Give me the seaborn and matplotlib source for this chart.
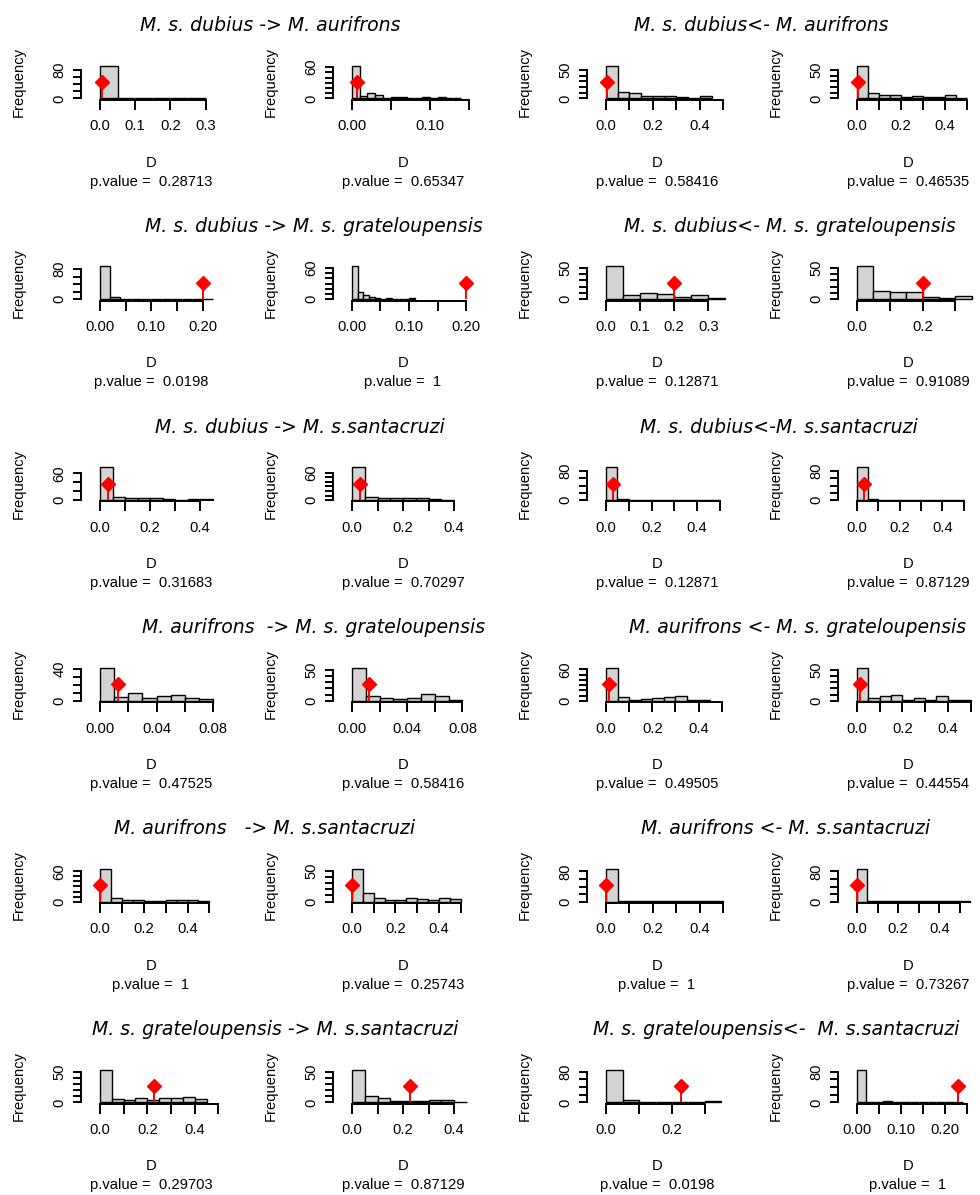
import numpy as np
import pandas as pd
import matplotlib
matplotlib.use("Agg")
import matplotlib.pyplot as plt
import seaborn as sns

sns.set_theme(style="white")
plt.rcParams['font.family'] = ['Liberation Sans', 'DejaVu Sans']
plt.rcParams['axes.edgecolor'] = 'black'
plt.rcParams['xtick.color'] = 'black'
plt.rcParams['ytick.color'] = 'black'
plt.rcParams['text.color'] = 'black'
plt.rcParams['axes.labelcolor'] = 'black'

# ---------------- data ----------------
titles_left = [
    "M. s. dubius -> M. aurifrons",
    "M. s. dubius -> M. s. grateloupensis",
    "M. s. dubius -> M. s.santacruzi",
    "M. aurifrons  -> M. s. grateloupensis",
    "M. aurifrons   -> M. s.santacruzi",
    "M. s. grateloupensis -> M. s.santacruzi",
]
titles_right = [
    "M. s. dubius<- M. aurifrons",
    "M. s. dubius<- M. s. grateloupensis",
    "M. s. dubius<-M. s.santacruzi",
    "M. aurifrons <- M. s. grateloupensis",
    "M. aurifrons <- M. s.santacruzi",
    "M. s. grateloupensis<-  M. s.santacruzi",
]

# 24 panels, row by row (4 per row)
bin_width = [0.05, 0.01, 0.05, 0.05,
             0.02, 0.01, 0.05, 0.05,
             0.05, 0.05, 0.05, 0.05,
             0.01, 0.01, 0.05, 0.05,
             0.05, 0.05, 0.05, 0.05,
             0.05, 0.05, 0.05, 0.02]

counts = [
    [92, 2, 2, 1, 2, 2],
    [63, 4, 11, 6, 1, 3, 2, 1, 1, 3, 1, 2, 1, 1],
    [58, 11, 10, 5, 5, 4, 2, 1, 5],
    [58, 10, 6, 6, 3, 5, 3, 3, 6, 1],
    [87, 6, 2, 1, 2, 2, 0, 0, 0, 0, 0],
    [63, 14, 8, 5, 2, 1, 2, 1, 1, 1, 2],
    [52, 7, 10, 9, 4, 6, 2],
    [52, 13, 12, 11, 4, 2, 5],
    [74, 7, 4, 4, 4, 2, 1, 2, 2],
    [72, 7, 4, 4, 5, 4, 3, 1],
    [91, 3, 1, 1, 1, 1, 1, 0, 1, 1],
    [91, 2, 1, 1, 1, 1, 1, 1, 1, 1],
    [41, 5, 10, 3, 6, 7, 3, 2],
    [53, 8, 5, 3, 4, 11, 8, 1],
    [63, 8, 2, 3, 5, 7, 9, 2, 1],
    [53, 5, 8, 9, 2, 4, 2, 8, 1, 1],
    [65, 7, 4, 4, 1, 2, 4, 3, 4, 2],
    [53, 14, 6, 2, 3, 6, 4, 3, 6, 4],
    [87, 2, 1, 1, 2, 1, 1, 2, 2, 2],
    [87, 2, 1, 1, 2, 1, 1, 2, 1, 1, 1],
    [54, 6, 4, 7, 4, 7, 7, 9, 5],
    [54, 10, 7, 3, 3, 2, 4, 4, 0],
    [86, 6, 1, 2, 1, 1, 3],
    [86, 2, 2, 3, 1, 2, 1, 1, 1, 1, 1, 0],
]

obs_d = [0.007, 0.007, 0.004, 0.004,
         0.2, 0.2, 0.2, 0.2,
         0.032, 0.032, 0.032, 0.032,
         0.0125, 0.0125, 0.011, 0.011,
         0.0, 0.0, 0.0, 0.0,
         0.228, 0.228, 0.228, 0.228]

p_values = ["0.28713", "0.65347", "0.58416", "0.46535",
            "0.0198", "1", "0.12871", "0.91089",
            "0.31683", "0.70297", "0.12871", "0.87129",
            "0.47525", "0.58416", "0.49505", "0.44554",
            "1", "0.25743", "1", "0.73267",
            "0.29703", "0.87129", "0.0198", "1"]

# x axis ticks: step, last tick, label every n-th tick, decimals
x_tick_step = [0.1, 0.05, 0.1, 0.1,
               0.05, 0.05, 0.1, 0.1,
               0.1, 0.1, 0.1, 0.1,
               0.02, 0.02, 0.1, 0.1,
               0.1, 0.1, 0.1, 0.1,
               0.1, 0.1, 0.1, 0.05]
x_tick_max = [0.3, 0.15, 0.5, 0.5,
              0.2, 0.2, 0.3, 0.3,
              0.4, 0.4, 0.5, 0.5,
              0.08, 0.08, 0.5, 0.5,
              0.5, 0.5, 0.5, 0.5,
              0.5, 0.4, 0.3, 0.25]
x_label_every = [1, 2, 2, 2,
                 2, 2, 1, 2,
                 2, 2, 2, 2,
                 2, 2, 2, 2,
                 2, 2, 2, 2,
                 2, 2, 2, 2]
x_decimals = [1, 2, 1, 1,
              2, 2, 1, 1,
              1, 1, 1, 1,
              2, 2, 1, 1,
              1, 1, 1, 1,
              1, 1, 1, 2]
x_limits = [(-0.054, 0.344), (-0.024, 0.155), (-0.081, 0.516), (-0.086, 0.55),
            (-0.037, 0.236), (-0.033, 0.212), (-0.056, 0.355), (-0.058, 0.369),
            (-0.076, 0.484), (-0.075, 0.474), (-0.083, 0.531), (-0.089, 0.567),
            (-0.0134, 0.0854), (-0.0138, 0.0877), (-0.082, 0.523), (-0.084, 0.533),
            (-0.087, 0.553), (-0.087, 0.557), (-0.081, 0.516), (-0.093, 0.589),
            (-0.080, 0.511), (-0.075, 0.474), (-0.058, 0.367), (-0.043, 0.274)]

# y axis ticks: last tick and step
y_tick_max = [80, 60, 50, 50,
              80, 60, 50, 50,
              60, 60, 80, 80,
              40, 50, 60, 50,
              60, 50, 80, 80,
              50, 50, 80, 80]
y_tick_step = [20, 10, 10, 10,
               20, 10, 10, 10,
               20, 10, 20, 20,
               10, 10, 10, 10,
               10, 10, 20, 20,
               10, 10, 20, 20]

title_center_left = [270, 314, 300, 314, 265, 275]
title_center_right = [761, 790, 779, 798, 786, 776]

# ---------------- layout (pixels) ----------------
W, H = 980, 1195
fig = plt.figure(figsize=(W / 100, H / 100), dpi=100)
col_spine_x = [81, 333, 587, 838]
plot_w = 140
plot_h = 35.6
small = 10.6

for i in range(24):
    r, c = divmod(i, 4)
    base = 98.5 + 200.8 * r
    bottom_px = base + 1.3
    ax = fig.add_axes([col_spine_x[c] / W, 1 - bottom_px / H, plot_w / W, plot_h / H])

    cnt = np.array(counts[i], dtype=float)
    edges = np.arange(len(cnt) + 1) * bin_width[i]
    df = pd.DataFrame({"D": (edges[:-1] + edges[1:]) / 2, "n": cnt})
    sns.histplot(data=df, x="D", weights="n", bins=[float(e) for e in edges],
                 ax=ax, stat="count",
                 color="#d3d3d3", edgecolor="black", linewidth=1.0, alpha=1)

    M = cnt.max()
    ax.vlines(obs_d[i], 0, M / 2, color="red", lw=1.4, zorder=5)
    ax.plot([obs_d[i]], [M / 2], marker="D", color="red", ms=7.3, ls="none",
            zorder=6, clip_on=False)

    ax.set_xlim(*x_limits[i])
    ax.set_ylim(-0.04 * M, 1.04 * M)

    xt = np.round(np.arange(0, x_tick_max[i] + 1e-9, x_tick_step[i]), 6)
    xl = [f"{t:.{x_decimals[i]}f}" if k % x_label_every[i] == 0 else ""
          for k, t in enumerate(xt)]
    ax.set_xticks(xt)
    ax.set_xticklabels(xl, fontsize=small)

    yt = np.arange(0, y_tick_max[i] + 1, y_tick_step[i])
    yl = [str(v) if v in (0, y_tick_max[i]) else "" for v in yt]
    ax.set_yticks(yt)
    ax.set_yticklabels(yl, fontsize=small, rotation=90, va="center")

    for s in ("top", "right"):
        ax.spines[s].set_visible(False)
    ax.spines["bottom"].set_bounds(0, x_tick_max[i])
    ax.spines["left"].set_bounds(0, y_tick_max[i])
    ax.spines["bottom"].set_linewidth(1.4)
    ax.spines["left"].set_linewidth(1.4)
    ax.tick_params(axis="x", bottom=True, length=7, width=1.4, pad=7, direction="out")
    ax.tick_params(axis="y", left=True, length=6, width=1.4, pad=4.5, direction="out")
    ax.grid(False)

    ax.set_ylabel("Frequency", fontsize=small, va="center")
    ax.yaxis.set_label_coords(-62 / plot_w, 0.5)
    ax.set_xlabel("D", fontsize=small, va="center")
    ax.xaxis.set_label_coords(0.5, -(64 - 1.3) / plot_h)
    ax.text(0.5, -(83 - 1.3) / plot_h, f"p.value =  {p_values[i]}",
            transform=ax.transAxes, ha="center", va="center", fontsize=small)

for r in range(6):
    ty = 98.5 + 200.8 * r - 73
    fig.text(title_center_left[r] / W, 1 - ty / H, titles_left[r],
             ha="center", va="center", fontsize=13.6, style="italic",
             family="DejaVu Sans")
    fig.text(title_center_right[r] / W, 1 - ty / H, titles_right[r],
             ha="center", va="center", fontsize=13.6, style="italic",
             family="DejaVu Sans")

fig.savefig("out.png", dpi=100, facecolor="white")
